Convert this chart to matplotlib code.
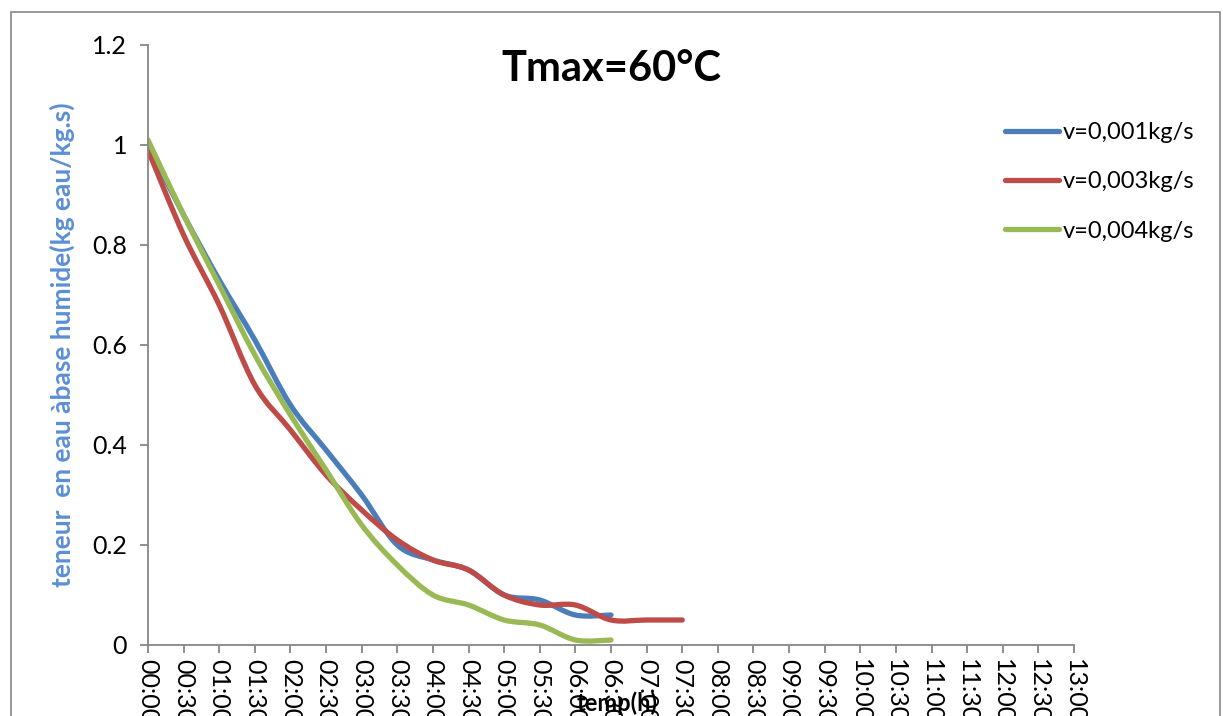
import numpy as np
import matplotlib
matplotlib.use("Agg")
import matplotlib.pyplot as plt
from matplotlib.path import Path
from matplotlib.patches import PathPatch, Rectangle
from matplotlib.lines import Line2D

plt.rcParams["font.family"] = ["Lato", "DejaVu Sans"]

# categories: every half hour from 00:00 to 13:00
time_labels = ["%02d:%02d" % (m // 60, m % 60) for m in range(0, 13 * 60 + 1, 30)]

series_labels = ["v=0,001kg/s", "v=0,003kg/s", "v=0,004kg/s"]
v_001 = [1.00, 0.86, 0.73, 0.61, 0.48, 0.39, 0.30, 0.20, 0.17, 0.15, 0.10, 0.09, 0.06, 0.06]
v_003 = [0.99, 0.82, 0.68, 0.52, 0.43, 0.34, 0.27, 0.21, 0.17, 0.15, 0.10, 0.08, 0.08, 0.05, 0.05, 0.05]
v_004 = [1.01, 0.86, 0.72, 0.58, 0.46, 0.35, 0.24, 0.16, 0.10, 0.08, 0.05, 0.04, 0.01, 0.01]
colors = ["#4A7EBB", "#BE4B48", "#98B954"]


def smooth_path(ys):
    # excel-like smoothed line through the points (bezier segments)
    pts = np.column_stack([np.arange(len(ys)), ys]).astype(float)
    n = len(pts)
    verts = [pts[0]]
    codes = [Path.MOVETO]
    for i in range(n - 1):
        p0 = pts[i - 1] if i > 0 else pts[i]
        p1, p2 = pts[i], pts[i + 1]
        p3 = pts[i + 2] if i + 2 < n else pts[i + 1]
        verts += [p1 + (p2 - p0) / 6.0, p2 - (p3 - p1) / 6.0, p2]
        codes += [Path.CURVE4] * 3
    return Path(verts, codes)


fig = plt.figure(figsize=(12.23, 7.16), dpi=100)
ax = fig.add_axes([148 / 1223, 71 / 716, (1074 - 148) / 1223, 600 / 716])

for ys, c in zip([v_001, v_003, v_004], colors):
    ax.add_patch(PathPatch(smooth_path(ys), fill=False, edgecolor=c, lw=3.8,
                           capstyle="round", joinstyle="round"))

ax.set_xlim(0, len(time_labels) - 1)
ax.set_ylim(0, 1.2)
ax.set_yticks([0, 0.2, 0.4, 0.6, 0.8, 1.0, 1.2])
ax.set_yticklabels(["0", "0.2", "0.4", "0.6", "0.8", "1", "1.2"])
ax.set_xticks(range(len(time_labels)))
ax.set_xticklabels(time_labels, rotation=-90, va="top", ha="center")

for s in ["top", "right"]:
    ax.spines[s].set_visible(False)
for s in ["left", "bottom"]:
    ax.spines[s].set_color("#868686")
    ax.spines[s].set_linewidth(1.3)
ax.tick_params(axis="both", colors="#868686", labelcolor="black", labelsize=18,
               length=6, width=1.3, direction="out")
ax.tick_params(axis="y", pad=9)
ax.tick_params(axis="x", pad=4)

ax.set_title("Tmax=60°C", fontsize=30, fontweight="bold", pad=0, y=0.94)
ax.set_ylabel("teneur  en eau àbase humide(kg eau/kg.s)", fontsize=19,
              fontweight="bold", color="#5B8FD5", labelpad=12)
fig.text(617 / 1223, 1 - 703 / 716, "temp(h)", fontsize=17, fontweight="bold",
         ha="center", va="center")

handles = [Line2D([], [], color=c, lw=3.8, solid_capstyle="round") for c in colors]
fig.legend(handles, series_labels, loc="upper left", frameon=False, fontsize=17,
           bbox_to_anchor=(1005 / 1223, 1 - 122 / 716), borderpad=0, borderaxespad=0,
           handlelength=2.3, handletextpad=0.15, labelspacing=1.2)

fig.patches.append(Rectangle((11 / 1223, -0.05), 1209 / 1223, 1.05 - 12 / 716,
                             transform=fig.transFigure, fill=False,
                             edgecolor="#868686", lw=1.2))

fig.savefig("out.png", dpi=100)
